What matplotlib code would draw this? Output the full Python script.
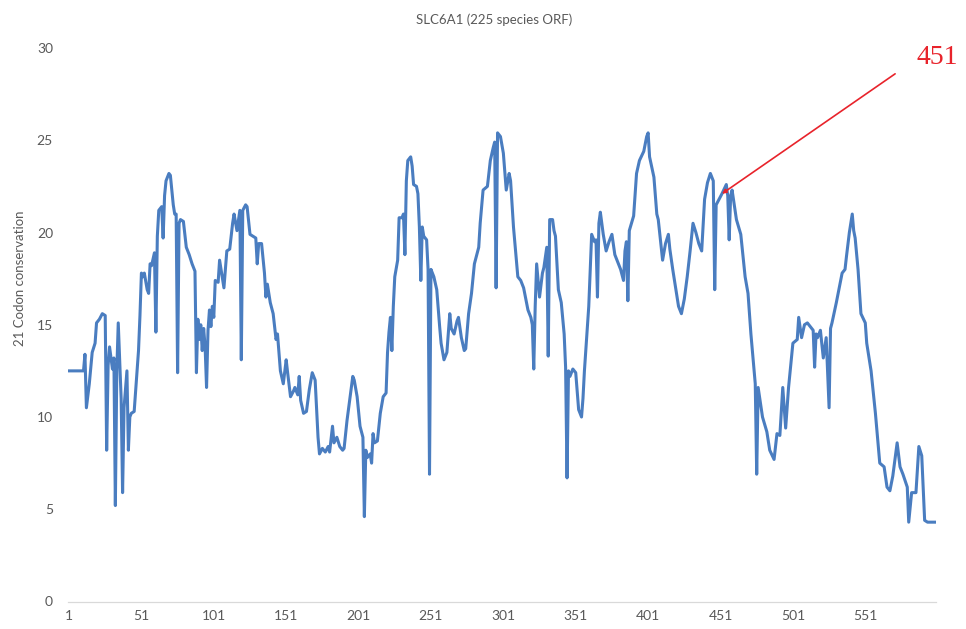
import matplotlib
matplotlib.use("Agg")
import matplotlib.pyplot as plt

# codon position (x) and 21-codon conservation score (y)
positions = [
    1, 11, 12, 13, 15, 17, 19, 20, 22, 24, 26, 27, 28, 29, 31, 32, 33, 34, 35, 36,
    37, 38, 39, 41, 42, 43, 44, 46, 48, 49, 50, 51, 52, 53, 55, 56, 57, 58, 60, 61,
    62, 63, 65, 66, 67, 68, 69, 70, 71, 72, 73, 74, 75, 76, 77, 78, 80, 82, 83, 84,
    86, 88, 89, 90, 91, 92, 93, 94, 95, 96, 97, 98, 99, 100, 101, 102, 104, 105, 106, 108,
    110, 112, 114, 115, 117, 119, 120, 121, 123, 124, 126, 128, 130, 131, 132, 134, 136, 137, 138, 140,
    142, 144, 145, 147, 149, 151, 152, 154, 156, 157, 159, 160, 161, 163, 165, 167, 169, 171, 173, 174,
    176, 178, 180, 181, 183, 184, 186, 188, 190, 191, 193, 195, 197, 198, 200, 202, 204, 205, 206, 207,
    209, 210, 211, 212, 214, 216, 218, 220, 221, 222, 223, 224, 225, 226, 228, 229, 231, 232, 233, 234,
    235, 237, 238, 239, 241, 242, 243, 244, 245, 246, 248, 249, 250, 251, 253, 255, 257, 258, 260, 262,
    264, 265, 267, 269, 270, 272, 274, 275, 277, 279, 281, 284, 285, 287, 290, 292, 294, 295, 296, 297,
    299, 301, 303, 305, 306, 308, 311, 313, 315, 318, 320, 321, 322, 323, 324, 326, 328, 329, 331, 332,
    333, 335, 336, 337, 339, 341, 343, 344, 345, 346, 347, 349, 351, 353, 355, 356, 357, 360, 362, 364,
    365, 366, 367, 368, 370, 372, 374, 376, 378, 382, 384, 385, 386, 387, 388, 391, 393, 395, 398, 400,
    401, 402, 405, 407, 408, 411, 413, 415, 416, 418, 420, 422, 424, 426, 428, 430, 432, 434, 436, 438,
    440, 442, 444, 446, 447, 448, 450, 452, 455, 456, 457, 458, 459, 462, 465, 468, 470, 472, 473, 475,
    476, 477, 480, 483, 485, 488, 490, 492, 494, 496, 498, 501, 504, 505, 507, 509, 511, 513, 515, 516,
    517, 518, 520, 522, 524, 526, 527, 528, 531, 535, 537, 538, 540, 541, 542, 543, 544, 546, 548, 551,
    552, 555, 558, 561, 564, 566, 568, 570, 573, 575, 577, 580, 581, 583, 586, 588, 590, 592, 594, 599,
]
conservation = [
    12.5, 12.5, 13.4, 10.5, 11.8, 13.5, 14.0, 15.1, 15.3, 15.6, 15.5, 8.2, 12.8, 13.8, 12.6, 13.2, 5.2, 12.5, 15.1, 13.0,
    11.0, 5.9, 10.5, 12.5, 8.2, 10.0, 10.2, 10.3, 12.5, 13.6, 15.5, 17.8, 17.6, 17.8, 16.9, 16.7, 18.3, 18.2, 18.9, 14.6,
    19.8, 21.2, 21.4, 19.7, 22.0, 22.8, 23.0, 23.2, 23.1, 22.3, 21.5, 21.0, 21.0, 12.4, 20.5, 20.7, 20.6, 19.2, 19.0, 18.8,
    18.3, 17.9, 12.4, 15.3, 14.2, 15.0, 13.6, 14.8, 13.8, 11.6, 14.7, 15.8, 14.9, 16.0, 15.4, 17.4, 17.3, 18.5, 18.0, 17.0,
    19.0, 19.1, 20.5, 21.0, 20.1, 21.2, 13.1, 21.2, 21.5, 21.4, 19.9, 19.8, 19.7, 18.3, 19.4, 19.4, 17.8, 16.5, 17.2, 16.2,
    15.6, 14.2, 14.5, 12.5, 11.8, 13.1, 12.4, 11.1, 11.4, 11.6, 11.2, 12.2, 10.9, 10.2, 10.3, 11.5, 12.4, 12.0, 8.9, 8.0,
    8.3, 8.1, 8.4, 8.1, 9.5, 8.6, 8.9, 8.4, 8.2, 8.3, 9.8, 11.0, 12.2, 12.0, 11.1, 9.5, 8.9, 4.6, 8.2, 7.8,
    8.0, 7.5, 9.1, 8.6, 8.7, 10.2, 11.1, 11.3, 13.5, 14.6, 15.4, 13.6, 16.0, 17.6, 18.5, 20.8, 20.8, 21.0, 18.8, 22.8,
    23.9, 24.1, 23.6, 22.6, 22.5, 22.1, 20.3, 17.4, 20.3, 19.8, 19.6, 18.0, 6.9, 18.0, 17.6, 16.9, 14.9, 14.0, 13.1, 13.5,
    15.6, 14.8, 14.5, 15.2, 15.4, 14.3, 13.6, 13.7, 15.6, 16.7, 18.3, 19.2, 20.5, 22.3, 22.5, 23.9, 24.6, 24.9, 17.0, 25.4,
    25.2, 24.3, 22.3, 23.2, 22.8, 20.3, 17.6, 17.4, 17.0, 15.8, 15.4, 15.0, 12.6, 16.0, 18.3, 16.5, 17.8, 18.1, 19.2, 13.3,
    20.7, 20.7, 20.1, 19.8, 16.9, 16.2, 14.5, 12.7, 6.7, 12.5, 12.2, 12.6, 12.4, 10.4, 10.0, 11.0, 12.5, 16.0, 19.9, 19.5,
    19.6, 16.5, 20.5, 21.1, 19.9, 19.0, 19.5, 19.9, 18.8, 18.0, 17.4, 19.0, 19.5, 16.3, 20.1, 20.9, 23.2, 23.9, 24.4, 25.2,
    25.4, 24.1, 23.0, 21.0, 20.7, 18.5, 19.4, 19.9, 19.1, 18.0, 17.0, 16.0, 15.6, 16.4, 17.6, 19.0, 20.5, 20.0, 19.4, 19.0,
    21.8, 22.7, 23.2, 22.8, 16.9, 21.5, 21.8, 22.1, 22.6, 22.0, 19.6, 22.0, 22.3, 20.7, 19.9, 17.6, 16.7, 14.5, 13.6, 11.8,
    6.9, 11.6, 10.0, 9.2, 8.2, 7.7, 9.1, 9.0, 11.6, 9.4, 11.6, 14.0, 14.2, 15.4, 14.3, 15.0, 15.1, 14.9, 14.7, 12.7,
    14.5, 14.3, 14.7, 13.2, 14.3, 10.5, 14.8, 15.1, 16.2, 17.8, 18.0, 18.7, 20.0, 20.5, 21.0, 20.1, 19.7, 18.0, 15.6, 15.1,
    14.0, 12.5, 10.2, 7.5, 7.3, 6.2, 6.0, 6.8, 8.6, 7.3, 6.9, 6.2, 4.3, 5.9, 5.9, 8.4, 7.9, 4.4, 4.3, 4.3,
]

n_codons = 599
x_ticks = [1, 51, 101, 151, 201, 251, 301, 351, 401, 451, 501, 551]
y_ticks = [0, 5, 10, 15, 20, 25, 30]

# highlighted position
marked_label = "451"
marked_pos = 452
marked_val = 22.1

gray = "#595959"
plt.rcParams["font.family"] = ["Lato", "DejaVu Sans"]

W, H = 966, 629
fig = plt.figure(figsize=(W / 100, H / 100), dpi=100)
ax = fig.add_axes([68.3 / W, 1 - 601.5 / H, (935.5 - 68.3) / W, (601.5 - 48) / H])

ax.plot(positions, conservation, color="#4A7DC0", lw=2.2, solid_joinstyle="round")

ax.set_xlim(0.5, n_codons + 0.5)
ax.set_ylim(0, 30)
ax.set_xticks(x_ticks)
ax.set_xticklabels([str(t) for t in x_ticks])
ax.set_yticks(y_ticks)
ax.tick_params(axis="both", length=0, labelsize=10, labelcolor=gray)
ax.tick_params(axis="y", pad=11)
ax.tick_params(axis="x", pad=6)

for side in ["top", "right", "left"]:
    ax.spines[side].set_visible(False)
ax.spines["bottom"].set_color("#D9D9D9")
ax.spines["bottom"].set_linewidth(0.9)

fig.text(494 / W, 1 - 20 / H, "SLC6A1 (225 species ORF)", ha="center", va="center",
         fontsize=9.5, color=gray)
fig.text(20 / W, 1 - 278 / H, "21 Codon conservation", ha="center", va="center",
         rotation=90, fontsize=9.5, color=gray)

# red pointer to codon 451
ax.annotate("", xy=(marked_pos, marked_val), xytext=(571.6, 28.6),
            arrowprops=dict(arrowstyle="-|>", color="#E8232B", lw=1.2, mutation_scale=6,
                            shrinkA=0, shrinkB=0))
fig.text(937.5 / W, 1 - 57 / H, marked_label, ha="center", va="center",
         fontsize=20, color="#E8232B", family="Liberation Serif")

fig.savefig("out.png", dpi=100)
